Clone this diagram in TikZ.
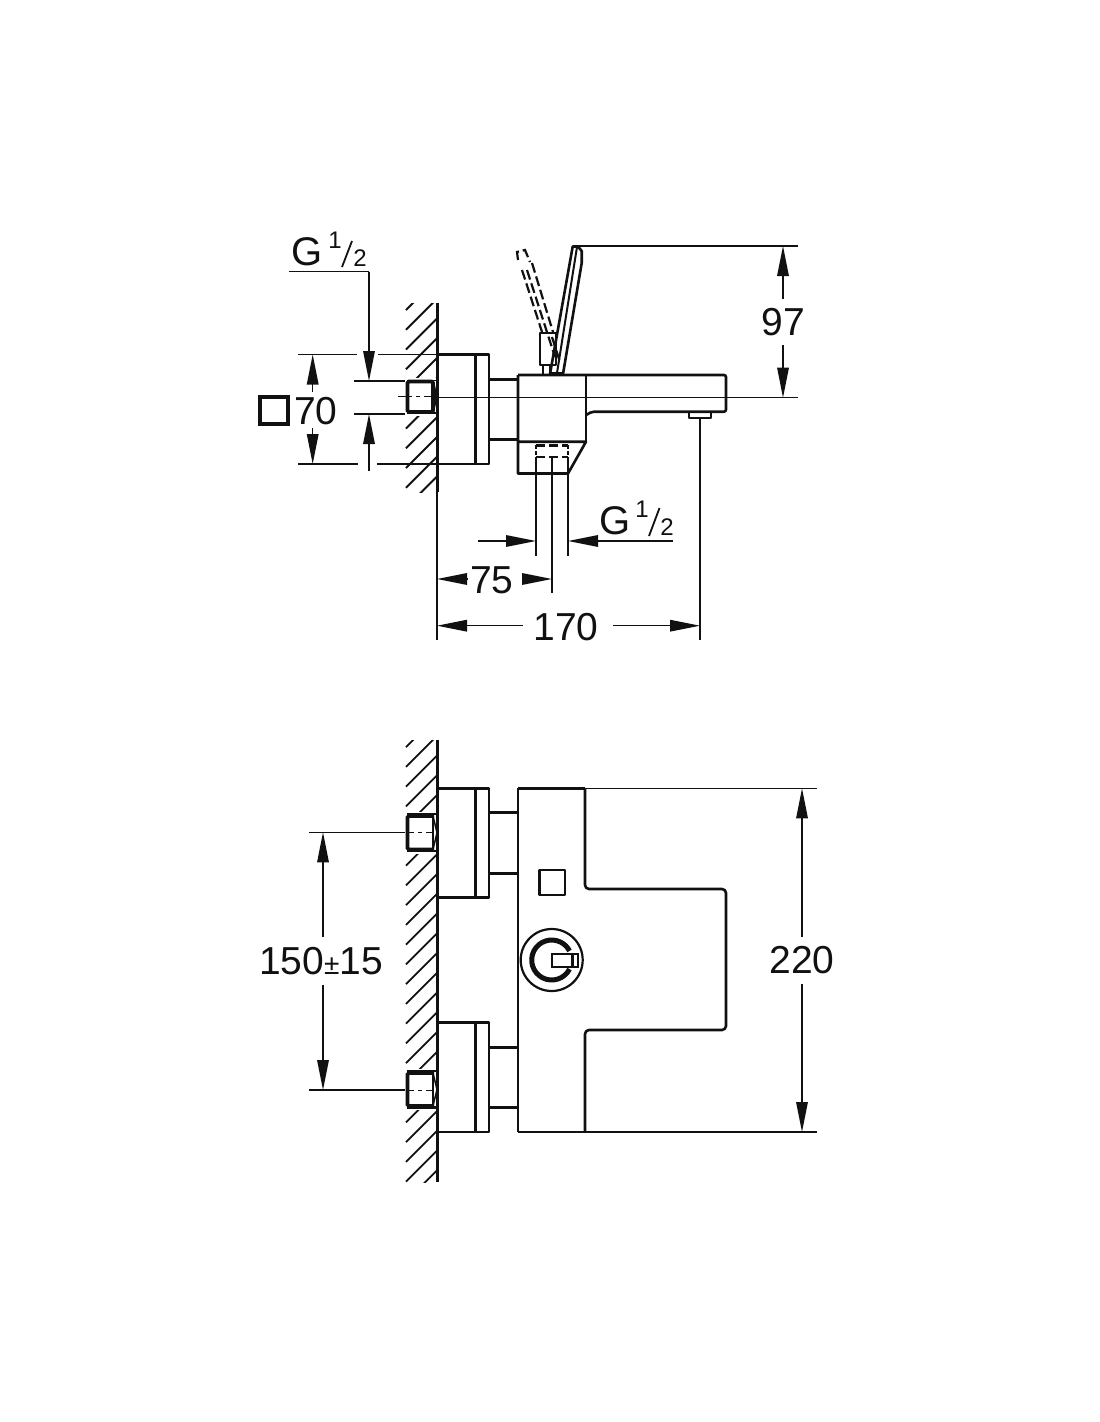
\documentclass[tikz,border=0pt]{standalone}
\usepackage{fontspec}
\setmainfont{Liberation Sans}
\usetikzlibrary{arrows.meta}
\definecolor{ink}{HTML}{111111}
\tikzset{
  heavy/.style={draw=ink,line width=2.6pt,line join=round},
  bold/.style={draw=ink,line width=3.4pt},
  thin/.style={draw=ink,line width=1.5pt},
  hatchline/.style={draw=ink,line width=1.8pt},
  dim/.style={draw=ink,line width=1.5pt,-{Triangle[length=30pt,width=11.5pt]}},
  dashedpart/.style={draw=ink,line width=2.2pt,dash pattern=on 10pt off 4pt},
  label/.style={text=ink,font=\fontsize{39}{39}\selectfont,inner sep=0pt,anchor=center},
  gbig/.style={text=ink,font=\fontsize{40}{40}\selectfont,inner sep=0pt,anchor=base},
  gsmall/.style={text=ink,font=\fontsize{24}{24}\selectfont,inner sep=0pt,anchor=base},
}
\newcommand{\hatchwall}[5]{% y-top, y-bottom, y0, k-from, k-to
  \begin{scope}
    \clip (404,#1) rectangle (437,#2);
    \foreach \k in {#4,...,#5} {
      \draw[hatchline] (406,{#3+19.75*\k}) -- ++(32,-32);
    }
  \end{scope}
}
\newcommand{\pipeA}[2]{% ytop ybottom of the square
  \fill[white] (404,{#1-3.5}) rectangle (436,{#2+4});
  \draw[draw=ink,line width=3.6pt,rounded corners=1.5pt] (407.5,#1) rectangle (433,#2);
  \draw[thin] (407,{#1-1}) -- (437,{#1-1});
  \draw[thin] (407,{#2+1}) -- (437,{#2+1});
  \draw[thin] (433,#1) .. controls (436.5,{#1+8}) and (436.5,{#2-8}) .. (433,#2);
  \draw[draw=ink,line width=1pt] (398,{(#1+#2)/2}) -- (412,{(#1+#2)/2}) (416,{(#1+#2)/2}) -- (420,{(#1+#2)/2}) (424,{(#1+#2)/2}) -- (437,{(#1+#2)/2});
}
\newcommand{\pipeB}[2]{%
  \fill[white] (404,{#1-4}) rectangle (436,{#2+4});
  \draw[draw=ink,line width=3.8pt,rounded corners=1.5pt] (434,#1) -- (407.5,#1) -- (407.5,#2) -- (434,#2);
  \draw[draw=ink,line width=2.8pt] ({407},{#1-2}) -- (437,{#1-2});
  \draw[draw=ink,line width=2.8pt] ({407},{#2+1.5}) -- (436,{#2+1.5});
  \draw[draw=ink,line width=1.8pt] (433,#1) -- (433,#2);
  \draw[thin] (433,#1) -- (437,{(#1+#2)/2}) -- (433,#2);
}
\begin{document}
\begin{tikzpicture}[x=1pt,y=-1pt]
\useasboundingbox (0,0) rectangle (1100,1422);
\fill[white] (0,0) rectangle (1100,1422);

% ================= TOP VIEW =================
\hatchwall{303}{492}{310}{0}{11}
\pipeA{381.5}{412}
\draw[draw=ink,line width=3pt] (437,303) -- (437,492);
\draw[thin] (437,492) -- (437,640);

% mounting plate
\draw[heavy] (437,354.5) -- (489,354.5) -- (489,464) -- (437,464);
\draw[bold] (475.5,354.5) -- (475.5,464);
\draw[heavy] (489,379.5) -- (518,379.5);
\draw[heavy] (489,439.5) -- (518,439.5);

% body and spout
\draw[heavy] (518,375) -- (518,473.5) -- (568,473.5) -- (586,441.7) -- (518,441.7);
\draw[heavy] (586,441.7) -- (586,375);
\draw[heavy,rounded corners=2pt] (518,375) -- (726,375) -- (726,411.7) -- (592,411.7) -- (586,415);
\draw[heavy] (689,412) rectangle (711,418);

% lever
\draw[heavy] (550,374) -- (572.7,246.5) -- (578,246.5) -- (581.7,251) -- (581.7,263) -- (563,374);
\draw[draw=ink,line width=2pt] (577,247) -- (557,373);
\draw[draw=ink,line width=3.4pt] (551,374) -- (563,374);
% dashed lever
\draw[dashedpart] (518,260) -- (517,252) -- (525,250) -- (530,262);
\draw[dashedpart] (522,270) -- (542,332);
\draw[dashedpart] (527,270) -- (555,357);
\draw[dashedpart] (532,263) -- (553,332);
\draw[dashedpart] (552,337) -- (560,362);
\draw[heavy] (540,333) rectangle (556,365);
\draw[heavy] (543,365) -- (543,375);
\draw[heavy] (550,365) -- (550,375);

% dashed connection under the body
\draw[draw=ink,line width=2.2pt,dash pattern=on 9pt off 4pt] (536,445.5) -- (568,445.5);
\draw[draw=ink,line width=2.2pt,dash pattern=on 9pt off 4pt] (536,457) -- (568,457);
\draw[draw=ink,line width=2pt,dash pattern=on 4pt off 2pt] (536,445) -- (536,457);
\draw[draw=ink,line width=2pt,dash pattern=on 4pt off 2pt] (568,445) -- (568,457);

% extension lines
\draw[thin] (437,397.7) -- (798,397.7);
\draw[thin] (578,246) -- (798,246);
\draw[thin] (298,354.5) -- (357,354.5);
\draw[thin] (378,354.5) -- (437,354.5);
\draw[thin] (298,464) -- (358,464);
\draw[thin] (377,464) -- (437,464);
\draw[thin] (354,381) -- (405,381);
\draw[thin] (354,414) -- (405,414);
\draw[thin] (536,457) -- (536,556);
\draw[thin] (568,457) -- (568,556);
\draw[thin] (552,458) -- (552,593);
\draw[thin] (700,418) -- (700,640);

% dimension 97
\draw[dim] (783,299) -- (783,246);
\draw[dim] (783,345) -- (783,397.7);
\node[label] (d97) at (783.5,322) {97};

% dimension square 70
\draw[dim] (312.7,392) -- (312.7,354.5);
\draw[dim] (312.7,428) -- (312.7,464);
\draw[draw=ink,line width=4pt] (260,397) rectangle (288,424);
\node[label] (d70) at (316,411) {70};

% G 1/2, left
\draw[thin] (289,271.7) -- (369,271.7);
\draw[dim] (369,271.7) -- (369,381);
\draw[dim] (369,471) -- (369,414);
\node[gbig] (gl) at (307.5,265.5) {G};
\node[gsmall] (gl1) at (335,248) {1};
\node[gsmall] (gl2) at (360,266) {2};
\draw[draw=ink,line width=1.8pt] (342,267) -- (352,241) coordinate (glslash);

% G 1/2, lower
\draw[dim] (478,541) -- (536,541);
\draw[dim] (673,541) -- (568,541);
\node[gbig] (gr) at (615,534.5) {G};
\node[gsmall] (gr1) at (642,517) {1};
\node[gsmall] (gr2) at (667,535.5) {2};
\draw[draw=ink,line width=1.8pt] (649,536) -- (659.5,508) coordinate (grslash);

% dimension 75
\draw[dim] (468,579) -- (437,579);
\draw[dim] (523,579) -- (552,579);
\node[label] (d75) at (492,580) {75};

% dimension 170
\draw[dim] (523,625.7) -- (437,625.7);
\draw[dim] (613,625.7) -- (700,625.7);
\node[label] (d170) at (566,627) {170};

% ================= BOTTOM VIEW =================
\hatchwall{740}{1182}{766.9}{-1}{22}
\pipeB{816}{849.5}
\pipeB{1073}{1106}
\draw[draw=ink,line width=3pt] (437,740) -- (437,1182);

% mounting plates
\draw[heavy] (437,788.3) -- (489,788.3) -- (489,897.7) -- (437,897.7);
\draw[bold] (475.5,788.3) -- (475.5,897.7);
\draw[heavy] (489,812.7) -- (518,812.7);
\draw[heavy] (489,873.3) -- (518,873.3);
\draw[heavy] (437,1022.7) -- (489,1022.7) -- (489,1132) -- (437,1132);
\draw[bold] (475.5,1022.7) -- (475.5,1132);
\draw[heavy] (489,1047.3) -- (518,1047.3);
\draw[heavy] (489,1107.3) -- (518,1107.3);

% body
\draw[heavy] (518,788.3) -- (518,1132);
\draw[heavy] (518,788.3) -- (585,788.3);
\draw[heavy] (518,1132) -- (585,1132);
\draw[heavy,rounded corners=4pt] (585,788.3) -- (585,889) -- (726,889) -- (726,1030) -- (585,1030) -- (585,1132);
\draw[heavy] (539.5,870) rectangle (565,895);

% handle
\draw[draw=ink,line width=2.2pt] (551.7,960) circle[radius=31];
\draw[draw=ink,line width=5pt] ({551.7+20*cos(27)},{960+20*sin(27)}) arc[start angle=27,end angle=333,radius=20];
\draw[draw=ink,fill=white,line width=2.4pt] (551.7,954) rectangle (578,966.7);
\draw[draw=ink,line width=2.8pt] (572.7,954) -- (572.7,966.7);

% center lines and dimension 150+-15
\draw[thin] (309,832.3) -- (405,832.3);
\draw[thin] (309,1090) -- (405,1090);
\draw[draw=ink,line width=1pt] (406,832.3) -- (414,832.3) (418,832.3) -- (422,832.3) (426,832.3) -- (434,832.3);
\draw[draw=ink,line width=1pt] (406,1090) -- (414,1090) (418,1090) -- (422,1090) (426,1090) -- (434,1090);
\draw[dim] (323,937) -- (323,832.3);
\draw[dim] (323,985) -- (323,1090);
\node[label] (d150) at (321,961.5) {150{\fontsize{28}{28}\selectfont ±}15};

% dimension 220
\draw[thin] (585,788.3) -- (817,788.3);
\draw[thin] (585,1132) -- (817,1132);
\draw[dim] (802,937) -- (802,788.3);
\draw[dim] (802,984) -- (802,1132);
\node[label] (d220) at (802,960.5) {220};
\end{tikzpicture}
\end{document}
